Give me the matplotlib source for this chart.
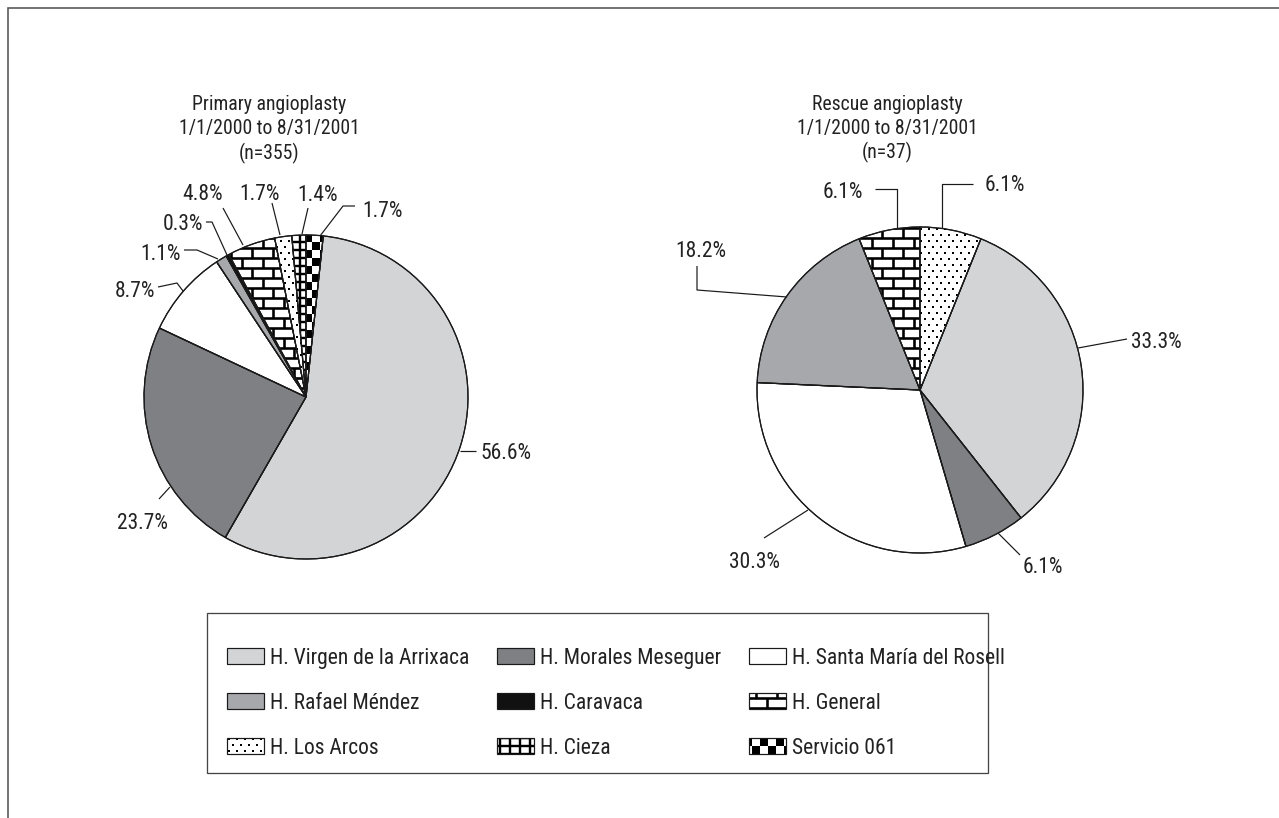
import numpy as np
import matplotlib
matplotlib.use("Agg")
import matplotlib.pyplot as plt
from matplotlib.patches import Wedge, Rectangle
from matplotlib.collections import LineCollection, PolyCollection
from matplotlib import font_manager as fm

# ---------------- data ----------------
hospitals = ["H. Virgen de la Arrixaca", "H. Morales Meseguer", "H. Santa María del Rosell",
             "H. Rafael Méndez", "H. Caravaca", "H. General",
             "H. Los Arcos", "H. Cieza", "Servicio 061"]
primary_pct = [56.6, 23.7, 8.7, 1.1, 0.3, 4.8, 1.7, 1.4, 1.7]
rescue_pct = [33.3, 6.1, 30.3, 18.2, 0.0, 6.1, 6.1, 0.0, 0.0]
primary_title = ["Primary angioplasty", "1/1/2000 to 8/31/2001", "(n=355)"]
rescue_title = ["Rescue angioplasty", "1/1/2000 to 8/31/2001", "(n=37)"]

# ---------------- styles ----------------
fills = ["#d3d4d6", "#7f8084", "#ffffff", "#a7a8ab", "#111111", "#ffffff", "#ffffff", "#ffffff", "#ffffff"]
patterns = [None, None, None, None, None, "brick", "dots", "grid", "checker"]

W, H = 1279, 818
PX = 72 / 100.0
TXT = "#222222"

# font choice (condensed if available)
avail = {f.name: f for f in fm.fontManager.ttflist}
FP = None
for cand in ["Roboto Condensed", "Liberation Sans Narrow", "Arial Narrow", "Open Sans Condensed"]:
    if cand in avail:
        FP = fm.FontProperties(family=cand)
        break
if FP is None:
    conds = [f for f in fm.fontManager.ttflist
             if f.name == "DejaVu Sans" and "Condensed" in f.fname and "Bold" not in f.fname
             and "Oblique" not in f.fname]
    if conds:
        FP = fm.FontProperties(fname=conds[0].fname)
        FS = 14.0
    else:
        FP = fm.FontProperties(family="Liberation Sans")
        FS = 13.5
else:
    FS = 15.5
FS_TITLE = FS * 0.92

fig = plt.figure(figsize=(W / 100, H / 100), dpi=100)
ax = fig.add_axes([0, 0, 1, 1])


def Y(y):
    return H - y


def text(x, yc, s, ha, size=None):
    size = FS if size is None else size
    cap = 0.71 * size / PX
    ax.text(x, Y(yc + cap / 2), s, ha=ha, va="baseline", fontproperties=FP,
            fontsize=size, color=TXT, zorder=6)


def pattern_artists(kind, bbox):
    x0, y0, x1, y1 = bbox
    arts = []
    if kind == "brick":
        rh, bw = 10.0, 21.0
        segs = []
        for k in range(int(np.floor(y0 / rh)) - 1, int(np.ceil(y1 / rh)) + 1):
            yy = k * rh
            segs.append([(x0, yy), (x1, yy)])
            off = 0.0 if k % 2 == 0 else bw / 2
            for j in range(int(np.floor(x0 / bw)) - 1, int(np.ceil(x1 / bw)) + 1):
                xx = j * bw + off
                segs.append([(xx, yy), (xx, yy + rh)])
        arts.append(LineCollection(segs, colors="k", linewidths=2.6 * PX, capstyle="butt"))
    elif kind == "grid":
        sx, sy = 10.0, 8.0
        segs = []
        for k in range(int(np.floor(y0 / sy)) - 1, int(np.ceil(y1 / sy)) + 1):
            segs.append([(x0, k * sy), (x1, k * sy)])
        for j in range(int(np.floor(x0 / sx)) - 1, int(np.ceil(x1 / sx)) + 1):
            segs.append([(j * sx, y0), (j * sx, y1)])
        arts.append(LineCollection(segs, colors="k", linewidths=2.4 * PX, capstyle="butt"))
    elif kind == "dots":
        sx, sy, d = 8.0, 6.0, 2.2
        polys = []
        for k in range(int(np.floor(y0 / sy)) - 1, int(np.ceil(y1 / sy)) + 1):
            off = 0.0 if k % 2 == 0 else sx / 2
            for j in range(int(np.floor(x0 / sx)) - 1, int(np.ceil(x1 / sx)) + 1):
                cx, cy = j * sx + off, k * sy
                polys.append([(cx, cy), (cx + d, cy), (cx + d, cy + d), (cx, cy + d)])
        arts.append(PolyCollection(polys, facecolors="k", edgecolors="none"))
    elif kind == "checker":
        s = 8.0
        polys = []
        for k in range(int(np.floor(y0 / s)) - 1, int(np.ceil(y1 / s)) + 1):
            for j in range(int(np.floor(x0 / s)) - 1, int(np.ceil(x1 / s)) + 1):
                if (j + k) % 2 == 0:
                    xx, yy = j * s, k * s
                    polys.append([(xx, yy), (xx + s, yy), (xx + s, yy + s), (xx, yy + s)])
        arts.append(PolyCollection(polys, facecolors="k", edgecolors="none"))
    return arts


def draw_pie(values, center_px, radius, title_lines, title_x, title_ys, layout):
    idx = [i for i, v in enumerate(values) if v > 0]
    vals = [values[i] for i in idx]
    total = float(sum(vals))
    start = 90.0 - 360.0 * vals[-1] / total
    cx, cy = center_px[0], Y(center_px[1])
    wedges, _ = ax.pie(vals, colors=[fills[i] for i in idx], startangle=start,
                       counterclock=False, center=(cx, cy), radius=radius, frame=True,
                       wedgeprops=dict(edgecolor="#1a1a1a", linewidth=1.2 * PX))
    for w, i in zip(wedges, idx):
        w.set_zorder(1)
        if patterns[i]:
            for a in pattern_artists(patterns[i], (cx - radius, cy - radius, cx + radius, cy + radius)):
                a.set_zorder(2)
                ax.add_collection(a)
                a.set_clip_path(w)
        ax.add_patch(Wedge((cx, cy), radius, w.theta1, w.theta2, fill=False,
                           edgecolor="#1a1a1a", linewidth=1.2 * PX, zorder=3))
    # labels with leader lines
    for i in idx:
        path, (tx, ty), ha = layout[i]
        xs = [p[0] for p in path]
        ys = [Y(p[1]) for p in path]
        ax.plot(xs, ys, color="#1a1a1a", lw=1.2 * PX, zorder=4, solid_capstyle="butt")
        text(tx, ty, f"{values[i]:.1f}%", ha)
    for s, ty in zip(title_lines, title_ys):
        text(title_x, ty, s, "center", size=FS_TITLE)


# label layout: (leader path in px, text position in px, alignment)
left_layout = {
    0: ([(460, 451), (476, 451)], (480, 451), "left"),
    1: ([(170, 487), (159, 499)], (143, 521), "center"),
    2: ([(183, 291), (177, 283), (158, 287)], (155, 289), "right"),
    3: ([(218, 259), (197, 250), (184, 250)], (181, 252), "right"),
    4: ([(227, 255), (212, 222), (206, 222)], (203, 222), "right"),
    5: ([(243, 245), (223, 208)], (203, 192), "center"),
    6: ([(280, 235), (272, 203)], (260, 192), "center"),
    7: ([(302, 234), (308, 208)], (318, 193), "center"),
    8: ([(320, 236), (343, 206), (355, 206)], (362, 209), "left"),
}
right_layout = {
    0: ([(1078, 348), (1127, 339)], (1131, 340), "left"),
    1: ([(998, 533), (1020, 555)], (1023, 565), "left"),
    2: ([(808, 510), (764, 538)], (755, 560), "center"),
    3: ([(787, 297), (697, 290), (697, 266)], (701, 249), "center"),
    5: ([(897, 228), (897, 189), (875, 189)], (863, 190), "right"),
    6: ([(942, 228), (942, 184), (973, 184)], (985, 183), "left"),
}

draw_pie(primary_pct, (306, 397), 162, primary_title, 269, [103, 127, 152], left_layout)
draw_pie(rescue_pct, (920, 390), 163, rescue_title, 887, [103, 127, 151], right_layout)

# ---------------- legend ----------------
lx0, ly0, lx1, ly1 = 207, 613, 988, 773
ax.add_patch(Rectangle((lx0, Y(ly1)), lx1 - lx0, ly1 - ly0, fill=False,
                       edgecolor="#444444", linewidth=1.3 * PX, zorder=3))
col_x = [227, 497, 749]
row_y = [656, 701, 746]
pw, ph = 37, 16
for i, name in enumerate(hospitals):
    r, c = divmod(i, 3)
    x, yc = col_x[c], row_y[r]
    rect = Rectangle((x, Y(yc + ph / 2)), pw, ph, facecolor=fills[i], edgecolor="none", zorder=1)
    ax.add_patch(rect)
    if patterns[i]:
        for a in pattern_artists(patterns[i], (x - 2, Y(yc + ph / 2) - 2, x + pw + 2, Y(yc - ph / 2) + 2)):
            a.set_zorder(2)
            ax.add_collection(a)
            a.set_clip_path(rect)
    ax.add_patch(Rectangle((x, Y(yc + ph / 2)), pw, ph, fill=False, edgecolor="#1a1a1a",
                           linewidth=1.2 * PX, zorder=3))
    text(x + pw + 6, yc, name, "left")

# ---------------- outer frame (top and left) ----------------
ax.plot([8, 8, W], [0, Y(8), Y(8)], color="#555555", lw=1.6 * PX, zorder=5, solid_joinstyle="miter")

ax.set_xlim(0, W)
ax.set_ylim(0, H)
ax.set_aspect("auto")
ax.set_axis_off()
fig.savefig("out.png", dpi=100)
